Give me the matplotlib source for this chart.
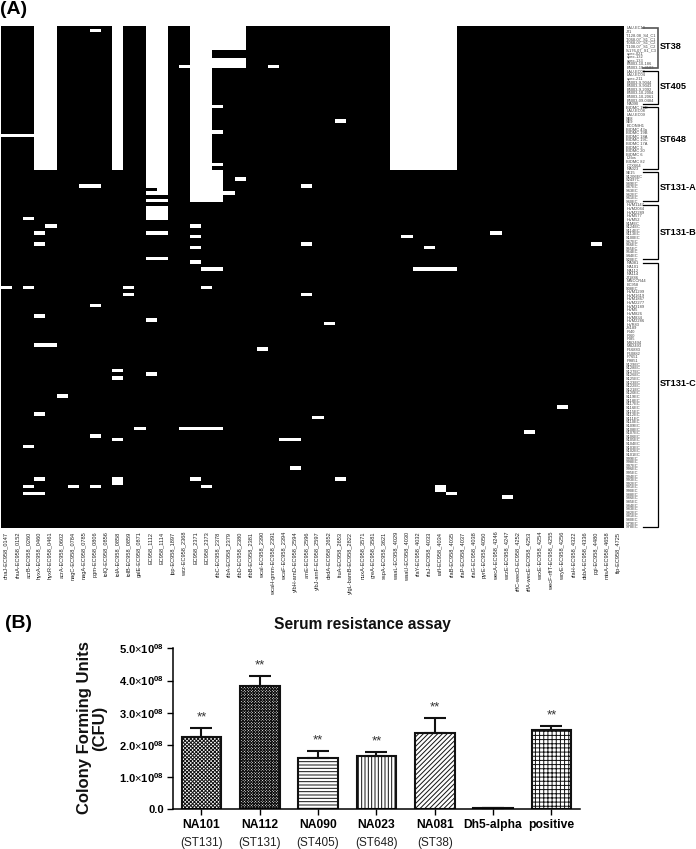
import matplotlib
matplotlib.use('Agg')
import matplotlib.pyplot as plt
import numpy as np

plt.rcParams['font.family'] = ['Liberation Sans', 'DejaVu Sans']
plt.rcParams['mathtext.fontset'] = 'custom'
plt.rcParams['mathtext.rm'] = 'Liberation Sans'
plt.rcParams['mathtext.bf'] = 'Liberation Sans:bold'
plt.rcParams['hatch.linewidth'] = 0.7

FIG_W = 696
FIG_H = 849

gene_labels = [
    'dnaJ-EC958_0147', 'rhuA-EC958_0152', 'acrB-EC958_0260', 'hyxA-EC958_0460', 'hyxR-EC958_0461',
    'acrA-EC958_0602', 'nagC-EC958_0784', 'nagA-EC958_0785', 'pgm-EC958_0806', 'tolQ-EC958_0856',
    'tolA-EC958_0858', 'tolB-EC958_0859', 'galE-EC958_0871', 'EC958_1112', 'EC958_1114',
    'lpp-EC958_1897', 'wzz-EC958_2368', 'EC958_2371', 'EC958_2373', 'rfbC-EC958_2378',
    'rfbA-EC958_2379', 'rfbD-EC958_2380', 'rfbB-EC958_2381', 'wcaI-EC958_2390', 'wcaH-gmm-EC958_2391',
    'wcaF-EC958_2394', 'yfbH-arnD-EC958_2594', 'arnE-EC958_2596', 'yfbJ-arnF-EC958_2597', 'dedA-EC958_2652',
    'fruA-EC958_2653', 'yfgL-bamB-EC958_2822', 'nuxA-EC958_3571', 'greA-EC958_3581', 'sspA-EC958_3621',
    'waaL-EC958_4029', 'waaU-EC958_4030', 'rfaY-EC958_4032', 'rfaJ-EC958_4033', 'rafI-EC958_4034',
    'rfaB-EC958_4035', 'rfaP-EC958_4037', 'rfaG-EC958_4038', 'pyrE-EC958_4050', 'wecA-EC958_4246',
    'wzzE-EC958_4247', 'rffC-wecD-EC958_4252', 'rffA-wecE-EC958_4253', 'wzxE-EC958_4254', 'wecF-rffT-EC958_4255',
    'wzyE-EC958_4256', 'rfaH-EC958_4322', 'dsbA-EC958_4336', 'pgi-EC958_4480', 'mtsA-EC958_4658',
    'ftp-EC958_4725',
]

strain_labels = [
    'LAU-EC10', 'JJ1', 'T-128-08_S4_C1', 'T-068-07_S1_C1', 'T-068-07_S1_C2', 'T-108-07_S1_C2',
    'S-176-07_S1_C3', 'upec-021', 'upec-132', 'upec-133', 'B5003-10-186', 'B5003-10-3183',
    'LAU-EC03', 'LAU-EC04', 'upec-211', 'B5003-9-9044', 'B5003-9-9043', 'B5003-9-2092',
    'B5003-10-2004', 'B5003-10-2061', 'B5003-09-0484', 'NA090',
    'BIDMC 19D', 'LAU-EC08', 'LAU-EC09', 'SE8', 'SE9', 'ECONIH1', 'BIDMC 43a', 'BIDMC 19B',
    'BIDMC 18A', 'BIDMC 19C', 'BIDMC 17A', 'BIDMC 3', 'BIDMC 20', 'BIDMC 6', 'L3fos', 'BIDMC 82',
    'CTX664', 'NA023',
    'SE15', 'S1206EC', 'S2497C', 'S89EC', 'S87EC', 'S63EC', 'S62EC', 'S61EC', 'S60EC',
    'HVM1147', 'HVM2044', 'HVM2289', 'HVM577', 'HVM52', 'S1MEC', 'S124EC', 'S114EC', 'S113EC',
    'S100EC', 'S67EC', 'S56EC', 'S55EC', 'S54EC', 'S44EC', 'S20EC',
    'NA081', 'NA101', 'NA112', 'NA114', 'JJ1886', 'MNCCR44', 'EC958', 'S08EC', 'HVM1299',
    'HVM1619', 'HVM1867', 'HVM2277', 'HVM3189', 'HVM5', 'HVM826', 'HVM834', 'HVM2286', 'HVR83',
    'JS189', 'IR40', 'IR60', 'IR85', 'MS2494', 'MS2493', 'P16883', 'P10882', 'P7651', 'P9851',
    'S129EC', 'S128EC', 'S127EC', 'S126EC', 'S125EC', 'S123EC', 'S122EC', 'S121EC', 'S120EC',
    'S119EC', 'S118EC', 'S117EC', 'S116EC', 'S115EC', 'S112EC', 'S111EC', 'S110EC', 'S109EC',
    'S108EC', 'S107EC', 'S106EC', 'S105EC', 'S104EC', 'S103EC', 'S102EC', 'S101EC', 'S99EC',
    'S98EC', 'S97EC', 'S96EC', 'S95EC', 'S94EC', 'S93EC', 'S92EC', 'S91EC', 'S90EC', 'S88EC',
    'S86EC', 'S85EC', 'S84EC', 'S83EC', 'S82EC', 'S81EC', 'S80EC', 'S79EC', 'S78EC',
]

# (first row, last row, first column, last column) of the white blocks
absent_blocks = [
    (0, 39, 3, 4), (0, 39, 10, 10), (0, 44, 13, 14), (45, 45, 14, 14), (46, 46, 13, 14),
    (48, 48, 13, 14), (50, 53, 13, 14), (57, 57, 13, 14), (64, 64, 13, 14),
    (0, 48, 17, 18), (0, 6, 19, 21), (9, 11, 19, 21), (22, 22, 19, 19), (29, 29, 19, 19),
    (38, 38, 19, 19), (40, 48, 19, 19), (46, 46, 20, 20), (42, 42, 21, 21),
    (11, 11, 16, 16), (11, 11, 24, 24), (1, 1, 8, 8), (30, 30, 0, 2), (26, 26, 30, 30),
    (44, 44, 7, 8), (44, 44, 27, 27), (53, 53, 2, 2), (55, 55, 4, 4), (57, 57, 3, 3),
    (60, 60, 3, 3), (60, 60, 27, 27), (55, 55, 17, 17), (58, 58, 17, 17), (61, 61, 17, 17),
    (65, 65, 17, 17), (67, 67, 18, 19),
    (0, 39, 35, 40), (58, 58, 36, 36), (61, 61, 38, 38), (67, 67, 37, 40), (57, 57, 44, 44),
    (60, 60, 53, 53),
    (72, 72, 0, 0), (72, 72, 2, 2), (72, 72, 11, 11), (72, 72, 18, 18), (74, 74, 11, 11),
    (74, 74, 27, 27), (77, 77, 8, 8), (80, 80, 3, 3), (81, 81, 13, 13), (82, 82, 29, 29),
    (88, 88, 3, 4), (89, 89, 23, 23), (95, 95, 10, 10), (97, 97, 10, 10), (96, 96, 13, 13),
    (102, 102, 5, 5), (107, 107, 3, 3), (108, 108, 28, 28), (111, 111, 12, 12),
    (111, 111, 16, 19), (113, 113, 8, 8), (114, 114, 10, 10), (114, 114, 25, 26),
    (116, 116, 2, 2), (122, 122, 26, 26), (125, 125, 3, 3), (125, 125, 17, 17),
    (125, 125, 30, 30), (125, 126, 10, 10), (127, 127, 2, 2), (127, 127, 6, 6),
    (127, 127, 8, 8), (127, 127, 18, 18), (129, 129, 2, 3),
    (105, 105, 50, 50), (112, 112, 47, 47), (127, 128, 39, 39), (129, 129, 40, 40),
    (130, 130, 45, 45),
]

group_names = ['ST38', 'ST405', 'ST648', 'ST131-A', 'ST131-B', 'ST131-C']
group_first_rows = [0, 12, 22, 40, 49, 65]
group_last_rows = [11, 21, 39, 48, 64, 138]
group_text_rows = [5.2, 16.1, 31, 44.1, 56.5, 98.4]

strains = ['NA101', 'NA112', 'NA090', 'NA023', 'NA081', 'Dh5-alpha', 'positive']
strain_sts = ['(ST131)', '(ST131)', '(ST405)', '(ST648)', '(ST38)', '', '']
cfu_values = [2.25e8, 3.83e8, 1.59e8, 1.67e8, 2.38e8, 0.03e8, 2.46e8]
cfu_errors = [0.27e8, 0.31e8, 0.21e8, 0.11e8, 0.45e8, 0.0, 0.12e8]
bar_hatches = ['xxxxxxxxx', 'xxxxxxxxxxxx', '-----', '|||||', '///////', '', '++++']
star_labels = ['**', '**', '**', '**', '**', '', '**']
y_tick_values = [0, 1e8, 2e8, 3e8, 4e8, 5e8]
y_tick_labels = ['0.0', '1.0$\\times$10$^{\\mathbf{08}}$', '2.0$\\times$10$^{\\mathbf{08}}$',
                 '3.0$\\times$10$^{\\mathbf{08}}$', '4.0$\\times$10$^{\\mathbf{08}}$',
                 '5.0$\\times$10$^{\\mathbf{08}}$']


def pixel_axes(fig, left, top, right, bottom):
    return fig.add_axes([left / FIG_W, 1 - bottom / FIG_H, (right - left) / FIG_W, (bottom - top) / FIG_H])


def plot_heatmap(fig):
    ax = pixel_axes(fig, 0.5, 26, 623.5, 528.5)
    matrix = np.zeros((len(strain_labels), len(gene_labels)))
    for first_row, last_row, first_col, last_col in absent_blocks:
        matrix[first_row:last_row + 1, first_col:last_col + 1] = 1
    ax.imshow(matrix, cmap='gray', vmin=0, vmax=1, aspect='auto', interpolation='nearest')
    ax.set_xticks(range(len(gene_labels)))
    ax.set_xticklabels(gene_labels, rotation=90, fontsize=4.1, color='#222222')
    ax.tick_params(axis='x', length=0, pad=2.2)
    ax.yaxis.tick_right()
    ax.set_yticks(range(len(strain_labels)))
    ax.set_yticklabels(strain_labels, fontsize=2.9, color='#444444')
    ax.tick_params(axis='y', length=0, pad=2.0)
    for spine in ax.spines.values():
        spine.set_visible(False)

    trans = ax.get_yaxis_transform()
    bracket_left = 1.0315
    bracket_right = 1.0555
    for i, name in enumerate(group_names):
        first = group_first_rows[i]
        last = group_last_rows[i]
        color = '#555555' if i == 0 else 'black'
        ax.plot([bracket_left, bracket_right, bracket_right, bracket_left], [first, first, last, last],
                transform=trans, color=color, lw=0.9 if i else 1.2, clip_on=False, solid_joinstyle='miter')
        ax.text(bracket_right + 0.003, group_text_rows[i], name, transform=trans, fontsize=6.6,
                fontweight='bold', va='center', ha='left', clip_on=False)
    ax.set_xlim(-0.5, len(gene_labels) - 0.5)
    ax.set_ylim(len(strain_labels) - 0.5, -0.5)


def plot_bars(fig):
    ax = pixel_axes(fig, 172.8, 648.3, 580, 809.3)
    x = np.arange(len(strains))
    ax.bar(x, cfu_values, width=0.68, color='white', edgecolor='#111111', linewidth=1.5, hatch=bar_hatches,
           yerr=[np.zeros(len(cfu_errors)), cfu_errors],
           error_kw={'ecolor': '#111111', 'elinewidth': 1.5, 'capsize': 7.7, 'capthick': 1.5}, zorder=2)
    for i, label in enumerate(star_labels):
        if label:
            ax.annotate(label, (i, cfu_values[i] + cfu_errors[i]), xytext=(0, 7.5), textcoords='offset points',
                        ha='center', va='center', fontsize=9.5, color='#333333')
    ax.set_xlim(-0.49, 6.49)
    ax.set_ylim(0, 5e8)
    ax.set_yticks(y_tick_values)
    ax.set_yticklabels(y_tick_labels, fontsize=8, fontweight='bold')
    ax.set_xticks(x)
    ax.set_xticklabels(strains, fontsize=8.7, fontweight='bold')
    ax.tick_params(axis='both', length=4, width=1.0, pad=2.5)
    ax.tick_params(axis='x', pad=3)
    for i, st in enumerate(strain_sts):
        if st:
            ax.annotate(st, (i, 0), xycoords=('data', 'axes fraction'), xytext=(0, -24), textcoords='offset points',
                        ha='center', va='center', fontsize=8.5, color='#222222')
    ax.spines['top'].set_visible(False)
    ax.spines['right'].set_visible(False)
    ax.spines['left'].set_linewidth(1.1)
    ax.spines['bottom'].set_linewidth(1.1)
    fig.text(362.5 / FIG_W, 1 - 624 / FIG_H, 'Serum resistance assay', fontsize=11.2, fontweight='bold',
             ha='center', va='center', color='#111111')
    fig.text(92 / FIG_W, 1 - 728 / FIG_H, 'Colony Forming Units\n(CFU)', fontsize=12, fontweight='bold',
             rotation=90, ha='center', va='center', linespacing=1.05, color='#111111')


def main():
    fig = plt.figure(figsize=(FIG_W / 100, FIG_H / 100), dpi=100)
    plot_heatmap(fig)
    plot_bars(fig)
    fig.text(0 / FIG_W, 1 - 10 / FIG_H, '(A)', fontsize=14, fontweight='bold', ha='left', va='center')
    fig.text(5 / FIG_W, 1 - 623 / FIG_H, '(B)', fontsize=14, fontweight='bold', ha='left', va='center')
    fig.savefig('out.png', dpi=100)


if __name__ == "__main__":
    main()
